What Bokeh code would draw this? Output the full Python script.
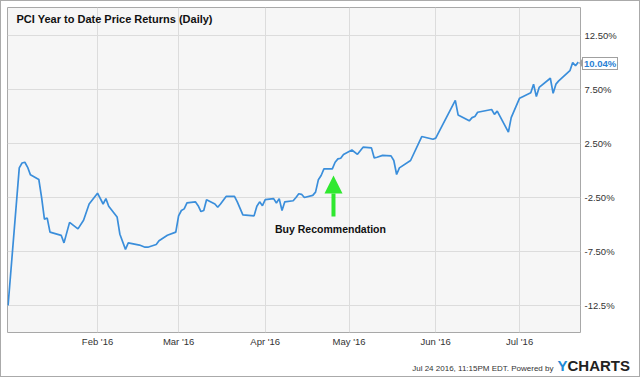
import pandas as pd
from datetime import datetime
from bokeh.plotting import figure
from bokeh.layouts import column
from bokeh.models import (Range1d, FixedTicker, DatetimeTickFormatter, Label,
                          Arrow, NormalHead, ColumnDataSource, Div)
from bokeh.embed import file_html
from bokeh.resources import INLINE

# ---- data ----
dates = [
    "2015-12-31", "2016-01-04", "2016-01-05", "2016-01-06", "2016-01-07", "2016-01-08",
    "2016-01-11", "2016-01-12", "2016-01-13", "2016-01-14", "2016-01-15", "2016-01-19",
    "2016-01-20", "2016-01-22", "2016-01-25", "2016-01-27", "2016-01-29", "2016-02-01",
    "2016-02-03", "2016-02-04", "2016-02-05", "2016-02-08", "2016-02-09", "2016-02-11",
    "2016-02-12", "2016-02-16", "2016-02-18", "2016-02-19", "2016-02-22", "2016-02-23",
    "2016-02-26", "2016-02-29", "2016-03-01", "2016-03-02", "2016-03-03", "2016-03-04",
    "2016-03-07", "2016-03-08", "2016-03-09", "2016-03-10", "2016-03-11", "2016-03-14",
    "2016-03-15", "2016-03-16", "2016-03-18", "2016-03-21", "2016-03-22", "2016-03-24",
    "2016-03-28", "2016-03-29", "2016-03-30", "2016-03-31", "2016-04-01", "2016-04-04",
    "2016-04-05", "2016-04-06", "2016-04-07", "2016-04-08", "2016-04-11", "2016-04-12",
    "2016-04-13", "2016-04-14", "2016-04-15", "2016-04-18", "2016-04-19", "2016-04-20",
    "2016-04-21", "2016-04-22", "2016-04-25", "2016-04-26", "2016-04-27", "2016-04-28",
    "2016-04-29", "2016-05-02", "2016-05-04", "2016-05-06", "2016-05-09", "2016-05-10",
    "2016-05-11", "2016-05-13", "2016-05-16", "2016-05-17", "2016-05-18", "2016-05-19",
    "2016-05-23", "2016-05-27", "2016-05-31", "2016-06-01", "2016-06-08", "2016-06-09",
    "2016-06-13", "2016-06-14", "2016-06-15", "2016-06-16", "2016-06-21", "2016-06-22",
    "2016-06-23", "2016-06-27", "2016-06-28", "2016-07-01", "2016-07-05", "2016-07-06",
    "2016-07-07", "2016-07-08", "2016-07-12", "2016-07-13", "2016-07-14", "2016-07-15",
    "2016-07-19", "2016-07-20", "2016-07-21", "2016-07-22",
]
returns_pct = [
    -12.5, 0.25, 0.7, 0.77, 0.3, -0.4,
    -0.83, -2.5, -4.5, -4.4, -5.7, -6.0,
    -6.7, -4.8, -5.4, -4.6, -3.1, -2.1,
    -3.1, -2.6, -3.3, -4.3, -5.9, -7.3,
    -6.7, -6.9, -7.1, -7.1, -6.85, -6.5,
    -6.0, -5.7, -4.2, -3.7, -3.55, -3.0,
    -2.9, -3.25, -3.8, -3.7, -2.7, -3.1,
    -3.4, -3.1, -2.4, -2.4, -2.9, -4.1,
    -4.2, -3.3, -2.9, -3.25, -2.7, -2.6,
    -3.0, -2.6, -3.7, -2.9, -2.8, -2.5,
    -2.15, -2.2, -2.5, -2.3, -2.0, -0.86,
    -0.46, 0.15, 0.15, 0.77, 1.08, 1.14,
    1.48, 1.9, 1.5, 2.16, 2.1, 1.17,
    1.23, 1.4, 1.36, 0.93, -0.37, 0.25,
    0.93, 3.15, 2.9, 3.0, 6.5, 5.15,
    4.6, 4.9, 5.0, 5.4, 5.65, 5.2,
    5.5, 3.55, 4.9, 6.7, 7.2, 8.0,
    6.85, 7.7, 8.55, 7.15, 8.0, 8.3,
    9.25, 10.0, 9.7, 10.04,
]
month_ticks = ["2016-02-01", "2016-03-01", "2016-04-01", "2016-05-01", "2016-06-01", "2016-07-01"]
y_ticks = [-12.5, -7.5, -2.5, 2.5, 7.5, 12.5]
y_tick_labels = ["-12.5%", "-7.50%", "-2.50%", "2.50%", "7.50%", "12.50%"]
last_label = "10.04%"
title_text = "PCI Year to Date Price Returns (Daily)"
annotation_text = "Buy Recommendation"
annotation_date = "2016-04-25 10:00"
footer_text = "Jul 24 2016, 11:15PM EDT. Powered by"

FONT = "Liberation Sans"
LINE_BLUE = "#3a8edb"

x = pd.to_datetime(dates)
src = ColumnDataSource(dict(x=x, y=returns_pct))

p = figure(width=640, height=354, x_axis_type="datetime", y_axis_location="right",
           x_range=Range1d(datetime(2015, 12, 30, 19), datetime(2016, 7, 22, 19)),
           y_range=Range1d(-15.0, 15.1),
           output_backend="svg", toolbar_location=None,
           min_border_left=7, min_border_top=7, min_border_right=60, min_border_bottom=22)

p.background_fill_color = "#f6f6f6"
p.border_fill_color = "white"
p.outline_line_color = "#a8a8a8"
p.outline_line_width = 1

# x axis
tick_ms = [pd.Timestamp(t).value // 10**6 for t in month_ticks]
p.xaxis.ticker = FixedTicker(ticks=tick_ms)
fmt = "%b '%y"
p.xaxis.formatter = DatetimeTickFormatter(months=fmt, days=fmt, years=fmt, hours=fmt,
                                          minutes=fmt, seconds=fmt, milliseconds=fmt,
                                          minsec=fmt, hourmin=fmt)
p.xaxis.axis_line_color = None
p.xaxis.major_tick_line_color = None
p.xaxis.minor_tick_line_color = None
p.xaxis.major_tick_out = 0
p.xaxis.minor_tick_out = 0
p.xaxis.major_label_standoff = 3
p.xaxis.major_label_text_font = FONT
p.xaxis.major_label_text_font_size = "9.5px"
p.xaxis.major_label_text_color = "#333333"

# y axis
p.yaxis.ticker = FixedTicker(ticks=y_ticks)
p.yaxis.major_label_overrides = {v: s for v, s in zip(y_ticks, y_tick_labels)}
p.yaxis.axis_line_color = None
p.yaxis.major_tick_line_color = None
p.yaxis.minor_tick_line_color = None
p.yaxis.major_tick_out = 0
p.yaxis.minor_tick_out = 0
p.yaxis.major_label_standoff = 4
p.yaxis.major_label_text_align = "left"
p.yaxis.major_label_text_font = FONT
p.yaxis.major_label_text_font_size = "9.5px"
p.yaxis.major_label_text_color = "#333333"

p.xgrid.grid_line_color = "#dcdcdc"
p.ygrid.grid_line_color = "#dcdcdc"

p.line("x", "y", source=src, line_color=LINE_BLUE, line_width=1.7)

# title inside frame
p.add_layout(Label(x=9, y=314, x_units="screen", y_units="screen", text=title_text,
                   text_font=FONT, text_font_style="bold", text_font_size="11px",
                   text_color="#111111", text_baseline="middle"))

# buy recommendation annotation
ad = pd.Timestamp(annotation_date)
green = "#2fe82f"
p.add_layout(Arrow(end=NormalHead(size=18, fill_color=green, line_color=green, line_width=0),
                   x_start=ad, y_start=-4.26, x_end=ad, y_end=-0.46,
                   line_color=green, line_width=4))
p.add_layout(Label(x=ad - pd.Timedelta(hours=26), y=-5.46, text=annotation_text,
                   text_font=FONT, text_font_style="bold", text_font_size="10.5px",
                   text_color="#111111", text_align="center", text_baseline="middle"))

# last-value tag on the right axis (HTML overlay, canvas annotations are clipped to the frame)
value_tag = Div(
    text=(f'<div style="display:flex;align-items:center;">'
          f'<div style="width:0;height:0;border-top:4px solid transparent;border-bottom:4px solid transparent;'
          f'border-right:3px solid #a0a0a0;"></div>'
          f'<div style="border:1px solid #a0a0a0;background:white;padding:0 1px;line-height:11px;'
          f'font-family:\'{FONT}\';font-weight:bold;font-size:9.5px;color:#2a7fd4;">{last_label}</div></div>'),
    margin=0, width=40, height=14,
    styles={"position": "absolute", "left": "579px", "top": "55px"})

footer = Div(
    text=(f'<div style="width:630px;text-align:right;white-space:nowrap;line-height:23px;">'
          f'<span style="font-family:\'{FONT}\';font-size:8px;color:#333333;">{footer_text}</span>'
          f'<span style="font-family:\'{FONT}\';font-weight:bold;font-size:15px;color:#1e8ad6;margin-left:4px;">Y</span>'
          f'<span style="font-family:\'{FONT}\';font-weight:bold;font-size:15px;color:#222222;">CHARTS</span></div>'),
    width=640, height=23, margin=0)

frame_border = Div(text="", margin=0, width=640, height=377,
                   styles={"position": "absolute", "left": "0px", "top": "0px",
                           "border": "1px solid #aaaaaa", "box-sizing": "border-box",
                           "pointer-events": "none"})

layout = column(p, footer, value_tag, frame_border, spacing=0)

open("out.html", "w").write(file_html(layout, INLINE))
